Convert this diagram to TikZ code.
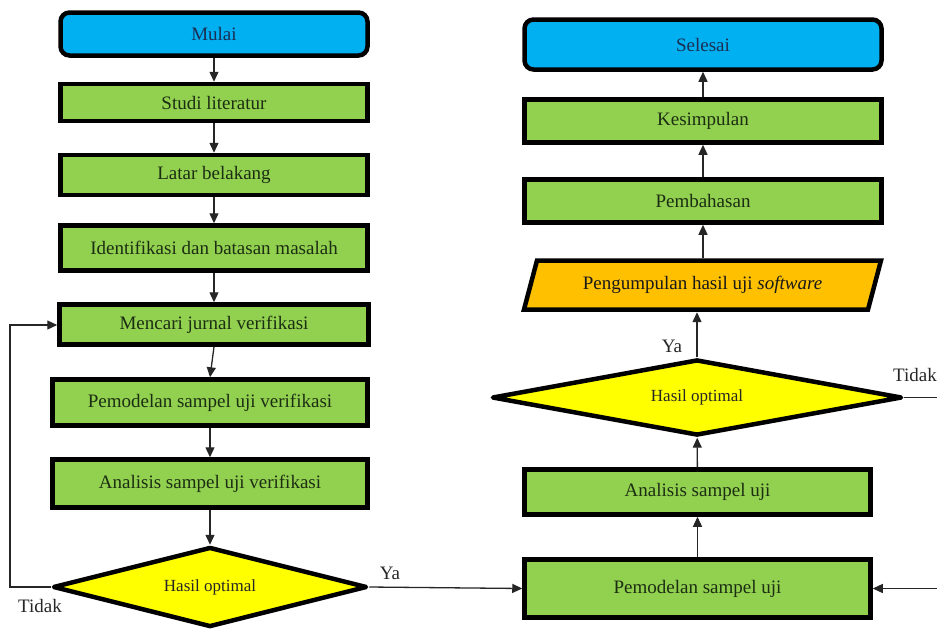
\documentclass[tikz,border=0pt]{standalone}
\usepackage{fontspec}
\setmainfont{Liberation Serif}
\usetikzlibrary{shapes.geometric,arrows.meta}
\definecolor{cblue}{HTML}{00B0F0}
\definecolor{cgreen}{HTML}{92D050}
\definecolor{cyellow}{HTML}{FFFF00}
\definecolor{corange}{HTML}{FFC000}
\definecolor{tnavy}{HTML}{1B2F55}
\definecolor{tgreen}{HTML}{1C2E12}
\tikzset{
  base/.style={draw=black,line width=4.5pt,inner sep=0pt,font=\fontsize{19}{22}\selectfont},
  termbox/.style={base,rectangle,rounded corners=9pt,fill=cblue,text=tnavy},
  procbox/.style={base,rectangle,fill=cgreen,text=tgreen},
  decbox/.style={base,diamond,aspect=4,line join=round,fill=cyellow,text=black!85,font=\fontsize{17}{20}\selectfont},
  conn/.style={line width=1.3pt,draw=black!85},
  arr/.style={conn,-{Triangle[length=10pt,width=9pt]}},
  lbl/.style={font=\fontsize{19}{22}\selectfont,text=black!85,inner sep=0pt}
}
\begin{document}
\begin{tikzpicture}[x=1pt,y=-1pt]
\useasboundingbox (0,0) rectangle (937,630);
% left column
\node[termbox,minimum width=307,minimum height=43] (mulai) at (214,34) {Mulai};
\node[procbox,minimum width=307,minimum height=37] (studi) at (214,102.5) {Studi literatur};
\node[procbox,minimum width=307,minimum height=40] (latar) at (214,175) {Latar belakang};
\node[procbox,minimum width=307,minimum height=45] (ident) at (214,248) {Identifikasi dan batasan masalah};
\node[procbox,minimum width=309,minimum height=40] (mencari) at (214,324.5) {Mencari jurnal verifikasi};
\node[procbox,minimum width=315,minimum height=46] (pemver) at (210,402.5) {Pemodelan sampel uji verifikasi};
\node[procbox,minimum width=315,minimum height=48] (analver) at (210,483.5) {Analisis sampel uji verifikasi};
\node[decbox,minimum width=314,minimum height=80] (decl) at (210,587) {Hasil optimal};
% right column
\node[termbox,minimum width=357,minimum height=50] (selesai) at (703,44.5) {Selesai};
\node[procbox,minimum width=357,minimum height=43] (kesim) at (703,121) {Kesimpulan};
\node[procbox,minimum width=357,minimum height=43] (bahas) at (703,201) {Pembahasan};
\draw[base,fill=corange,line join=miter] (537,260.5) -- (881,260.5) -- (868,309.5) -- (524,309.5) -- cycle;
\node[inner sep=0pt,minimum height=54,minimum width=330,font=\fontsize{19}{22}\selectfont,text=black!90] (peng) at (702.5,285) {Pengumpulan hasil uji \textit{software}};
\node[decbox,minimum width=410,minimum height=76] (decr) at (697,397.5) {Hasil optimal};
\node[procbox,minimum width=346,minimum height=45] (anal) at (697.5,492) {Analisis sampel uji};
\node[procbox,minimum width=346,minimum height=58] (pemod) at (697.5,588.5) {Pemodelan sampel uji};
\coordinate (loopa) at (10,587);
\coordinate (loopb) at (10,325);
\coordinate (rtid) at (937,397.5);
\coordinate (rin) at (937,588.5);
% left connectors
\draw[arr] (mulai) -- (studi);
\draw[arr] (studi) -- (latar);
\draw[arr] (latar) -- (ident);
\draw[arr] (ident) -- (mencari);
\draw[arr] (mencari.south) -- (pemver.north);
\draw[arr] (pemver) -- (analver);
\draw[arr] (analver) -- (decl);
\draw[arr] (decl.west) -- (loopa) -- (loopb) -- (mencari.west |- loopb);
\draw[arr] (decl.east) -- (pemod.west);
% right connectors
\draw[arr] (pemod) -- (anal);
\draw[arr] (anal) -- (decr);
\draw[arr] (decr.north) -- (decr.north |- peng.south);
\draw[arr] (peng.north -| bahas.south) -- (bahas);
\draw[arr] (bahas) -- (kesim);
\draw[arr] (kesim) -- (selesai);
\draw[conn] (decr.east) -- (rtid);
\draw[arr] (rin) -- (pemod.east);
% labels
\node[lbl] (ya1) at (390,573) {Ya};
\node[lbl] (tid1) at (40,606) {Tidak};
\node[lbl] (ya2) at (672,346) {Ya};
\node[lbl,anchor=east] (tid2) at (937,375) {Tidak};
\end{tikzpicture}
\end{document}
